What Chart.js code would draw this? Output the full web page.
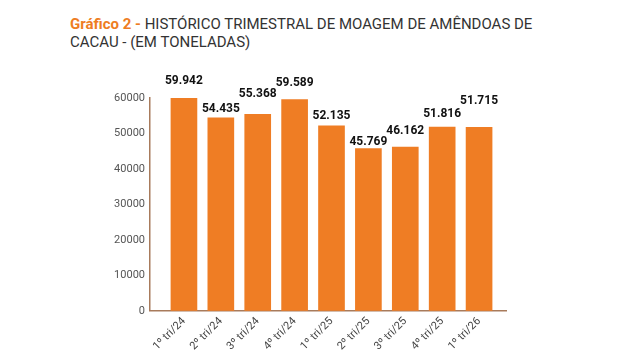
<!DOCTYPE html>
<html><head><meta charset="utf-8">
<script src="https://cdn.jsdelivr.net/npm/chart.js@4/dist/chart.umd.min.js"></script>
<style>
html,body{margin:0;padding:0;background:#fff;}
#wrap{position:relative;width:637px;height:357px;}
#title{position:absolute;left:70px;top:15px;font-family:Roboto,"Noto Sans",sans-serif;font-size:15px;line-height:18px;color:#333;white-space:nowrap;}
#title b{color:#EE7D22;font-weight:700;}
canvas{position:absolute;left:0;top:0;}
</style></head>
<body><div id="wrap">
<div id="title"><b>Gráfico 2 -</b> HISTÓRICO TRIMESTRAL DE MOAGEM DE AMÊNDOAS DE<br>CACAU - (EM TONELADAS)</div>
<canvas id="c" width="637" height="357"></canvas>
</div>
<script>
const categories = ["1º tri/24","2º tri/24","3º tri/24","4º tri/24","1º tri/25","2º tri/25","3º tri/25","4º tri/25","1º tri/26"];
const values = [59942,54435,55368,59589,52135,45769,46162,51816,51715];
const valueLabels = ["59.942","54.435","55.368","59.589","52.135","45.769","46.162","51.816","51.715"];
const labelGaps = [14,6,17,13,7,3,13,10,23];
const yTicks = [0,10000,20000,30000,40000,50000,60000];

const labelPlugin = {
  id:'vals',
  afterDatasetsDraw(chart){
    const ctx = chart.ctx;
    const meta = chart.getDatasetMeta(0);
    ctx.save();
    ctx.font = 'bold 12px Roboto, sans-serif';
    ctx.fillStyle = '#111';
    ctx.textAlign = 'center';
    ctx.textBaseline = 'alphabetic';
    meta.data.forEach((bar,i)=>{
      ctx.fillText(valueLabels[i], bar.x, bar.y - labelGaps[i]);
    });
    ctx.restore();
  }
};

new Chart(document.getElementById('c'), {
  type:'bar',
  data:{datasets:[{data:values.map((v,i)=>({x:i,y:v})), backgroundColor:'#EF7D24', barThickness:26}]},
  options:{
    responsive:false, animation:false,
    layout:{padding:{left:0,right:131,top:98,bottom:0}},
    plugins:{legend:{display:false},tooltip:{enabled:false}},
    scales:{
      x:{type:'linear',min:-0.92,max:8.73,offset:false,
         afterBuildTicks(ax){ax.ticks=categories.map((c,i)=>({value:i}));},
         grid:{display:false,drawTicks:false,offset:false},border:{color:'#A87B5C',width:1.5},
         ticks:{color:'#444',font:{family:'Roboto',size:11},maxRotation:45,minRotation:45,padding:4,autoSkip:false,
                callback:(v)=>categories[v]}},
      y:{min:0,max:60000,afterBuildTicks(ax){ax.ticks=yTicks.map(v=>({value:v}));},
         afterFit(ax){ax.width=150;},
         grid:{display:false,drawTicks:false},border:{color:'#A87B5C',width:1.5},
         ticks:{color:'#555',font:{family:'Roboto',size:11},padding:5,callback:v=>String(v)}}
    }
  },
  plugins:[labelPlugin]
});
</script>
</body></html>
